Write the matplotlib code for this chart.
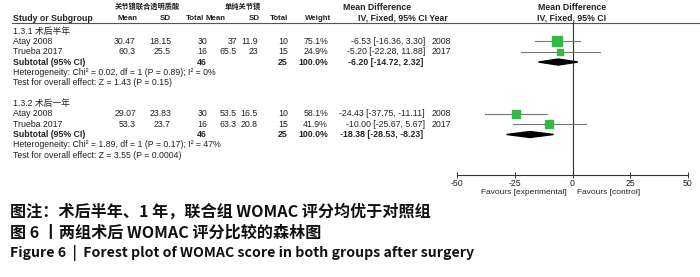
import matplotlib
matplotlib.use('Agg')
import matplotlib.pyplot as plt

# Forest plot data
groups = ['1.3.1 术后半年', '1.3.2 术后一年']
studies = ['Atay 2008', 'Trueba 2017']
years = ['2008', '2017']
exp_mean = [[30.47, 60.3], [29.07, 53.3]]
exp_sd = [[18.15, 25.5], [23.83, 23.7]]
exp_n = [[30, 16], [30, 16]]
ctl_mean = [[37, 65.5], [53.5, 63.3]]
ctl_sd = [[11.9, 23], [16.5, 20.8]]
ctl_n = [[10, 15], [10, 15]]
weights = [[75.1, 24.9], [58.1, 41.9]]
md = [[-6.53, -5.20], [-24.43, -10.00]]
ci_lo = [[-16.36, -22.28], [-37.75, -25.67]]
ci_hi = [[3.30, 11.88], [-11.11, 5.67]]
sub_exp_n = [46, 46]
sub_ctl_n = [25, 25]
sub_md = [-6.20, -18.38]
sub_lo = [-14.72, -28.53]
sub_hi = [2.32, -8.23]
heterogeneity = ['Heterogeneity: Chi² = 0.02, df = 1 (P = 0.89); I² = 0%',
                 'Heterogeneity: Chi² = 1.89, df = 1 (P = 0.17); I² = 47%']
overall = ['Test for overall effect: Z = 1.43 (P = 0.15)',
           'Test for overall effect: Z = 3.55 (P = 0.0004)']
xticks = [-50, -25, 0, 25, 50]
captions = ['图注：术后半年、1 年，联合组 WOMAC 评分均优于对照组',
            '图 6 丨两组术后 WOMAC 评分比较的森林图',
            'Figure 6  |  Forest plot of WOMAC score in both groups after surgery']

W, H = 700, 277
FS = 6.3
FAM = ['Liberation Sans', 'Noto Sans CJK SC']
fig = plt.figure(figsize=(W / 100, H / 100), dpi=100)

# text layer in pixel coordinates
tab = fig.add_axes([0, 0, 1, 1])
tab.set_xlim(0, W)
tab.set_ylim(H, 0)
tab.axis('off')


def t(x, y, s, ha='left', bold=False, size=FS, **kw):
    tab.text(x, y, s, ha=ha, va='center', fontsize=size,
             fontweight='bold' if bold else 'normal', family=FAM,
             color='#222222', **kw)


def row_y(i):
    return 31 + 10.35 * i


# header
t(147, 7, '关节镜联合透明质酸', ha='center', bold=True, size=5.2)
t(243, 7, '单纯关节镜', ha='center', bold=True, size=5.2)
t(343, 7, 'Mean Difference', bold=True)
t(572, 7, 'Mean Difference', ha='center', bold=True)
t(13, 18.5, 'Study or Subgroup', bold=True)
for x, s in [(137, 'Mean'), (171, 'SD'), (204, 'Total'), (225, 'Mean'),
             (260, 'SD'), (288, 'Total'), (331, 'Weight')]:
    t(x, 18.5, s, ha='right', bold=True, size=5.7)
t(358, 18.5, 'IV, Fixed, 95% CI Year', bold=True)
t(572, 18.5, 'IV, Fixed, 95% CI', ha='center', bold=True)
tab.plot([12, W], [23, 23], color='#555555', lw=0.8)

for g in range(2):
    base = 7 * g
    t(13, row_y(base), groups[g])
    for k in range(2):
        y = row_y(base + 1 + k)
        t(13, y, studies[k])
        t(136, y, f'{exp_mean[g][k]:g}', ha='right')
        t(171, y, f'{exp_sd[g][k]:g}', ha='right')
        t(207, y, str(exp_n[g][k]), ha='right')
        t(237, y, f'{ctl_mean[g][k]:g}', ha='right')
        t(258, y, f'{ctl_sd[g][k]:g}', ha='right')
        t(288, y, str(ctl_n[g][k]), ha='right')
        t(328, y, f'{weights[g][k]:.1f}%', ha='right')
        t(425, y, f'{md[g][k]:.2f} [{ci_lo[g][k]:.2f}, {ci_hi[g][k]:.2f}]', ha='right')
        t(432, y, years[k])
    y = row_y(base + 3)
    t(13, y, 'Subtotal (95% CI)', bold=True)
    t(207, y, str(sub_exp_n[g]), ha='right', bold=True)
    t(288, y, str(sub_ctl_n[g]), ha='right', bold=True)
    t(328, y, '100.0%', ha='right', bold=True)
    t(423, y, f'{sub_md[g]:.2f} [{sub_lo[g]:.2f}, {sub_hi[g]:.2f}]', ha='right', bold=True)
    t(13, row_y(base + 4), heterogeneity[g])
    t(13, row_y(base + 5), overall[g])

# forest plot axes (pixel rows on y)
x0, x1, ytop, ybot = 457, 688, 22, 175
ax = fig.add_axes([x0 / W, 1 - ybot / H, (x1 - x0) / W, (ybot - ytop) / H])
ax.set_xlim(-50, 50)
ax.set_ylim(ybot, ytop)
ax.patch.set_alpha(0)
for sp in ['top', 'left', 'right']:
    ax.spines[sp].set_visible(False)
ax.spines['bottom'].set_color('#333333')
ax.spines['bottom'].set_linewidth(0.8)
ax.set_yticks([])
ax.set_xticks(xticks)
ax.set_xticklabels([str(v) for v in xticks], fontsize=FS, family=FAM, color='#222222')
ax.tick_params(axis='x', direction='inout', length=4, width=0.7, pad=1.2, color='#333333')
ax.axvline(0, color='#333333', lw=0.8)

for g in range(2):
    base = 7 * g
    for k in range(2):
        y = row_y(base + 1 + k)
        ax.plot([ci_lo[g][k], ci_hi[g][k]], [y, y], color='#777777', lw=0.8)
        side = 1.15 * weights[g][k] ** 0.5 * 0.72
        ax.plot(md[g][k], y, marker='s', ms=side, color='#36b846', mec='#36b846', zorder=3)
    y = row_y(base + 3)
    ax.fill([sub_lo[g], sub_md[g], sub_hi[g], sub_md[g]], [y, y - 3, y, y + 3],
            color='black', zorder=3)

t(567, 192, 'Favours [experimental]', ha='right', size=6.0)
t(577, 192, 'Favours [control]', size=6.0)

# captions
for i, (s, size) in enumerate(zip(captions, [11.6, 11.6, 10.2])):
    tab.text(10, 212 + 20.5 * i, s, ha='left', va='center', fontsize=size,
             fontweight='bold', family=['Noto Sans CJK SC', 'DejaVu Sans'], color='#111111')

fig.savefig('out.png', dpi=100)
